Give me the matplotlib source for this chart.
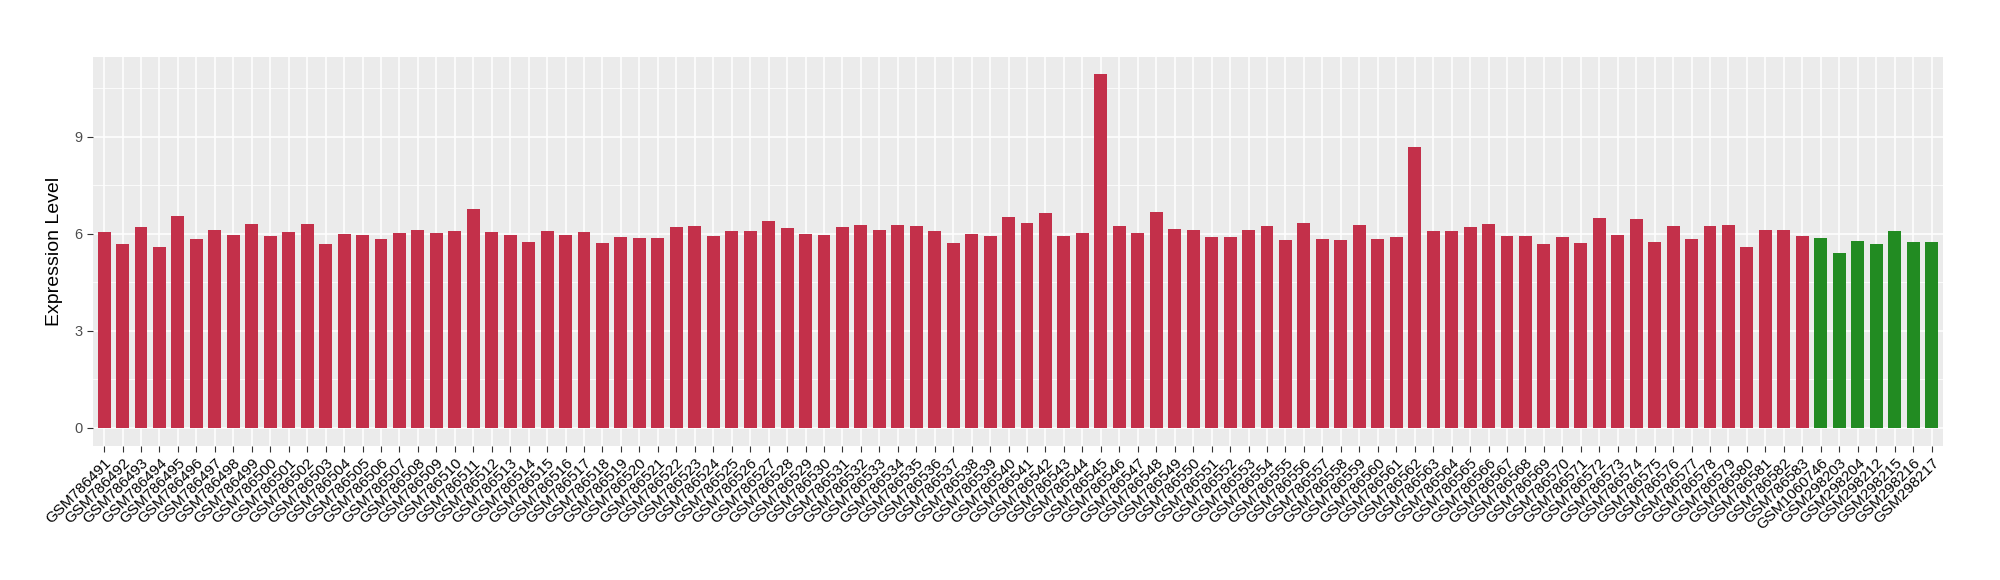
import numpy as np
import matplotlib
matplotlib.use("Agg")
import matplotlib.pyplot as plt
from matplotlib.ticker import MultipleLocator

# образцы и уровни экспрессии
red_samples = ["GSM%d" % n for n in range(786491, 786584)]
green_samples = ["GSM1060746", "GSM298203", "GSM298204", "GSM298212",
                 "GSM298215", "GSM298216", "GSM298217"]

red_values = [
    6.05, 5.68, 6.21, 5.59, 6.54, 5.84, 6.11, 5.96, 6.30, 5.93,
    6.05, 6.30, 5.68, 5.99, 5.96, 5.84, 6.02, 6.11, 6.02, 6.08,
    6.76, 6.05, 5.96, 5.74, 6.08, 5.96, 6.05, 5.71, 5.90, 5.87,
    5.87, 6.21, 6.24, 5.93, 6.08, 6.08, 6.39, 6.17, 5.99, 5.96,
    6.21, 6.27, 6.11, 6.27, 6.24, 6.08, 5.71, 5.99, 5.93, 6.51,
    6.33, 6.64, 5.93, 6.02, 10.92, 6.24, 6.02, 6.67, 6.14, 6.11,
    5.90, 5.90, 6.11, 6.24, 5.80, 6.33, 5.84, 5.80, 6.27, 5.84,
    5.90, 8.67, 6.08, 6.08, 6.21, 6.30, 5.93, 5.93, 5.68, 5.90,
    5.71, 6.48, 5.96, 6.45, 5.74, 6.24, 5.84, 6.24, 6.27, 5.59,
    6.11, 6.11, 5.93,
]
green_values = [5.87, 5.40, 5.77, 5.68, 6.08, 5.74, 5.74]

samples = red_samples + green_samples
values = red_values + green_values
colors = ["#C3304A"] * len(red_samples) + ["#228B22"] * len(green_samples)

fig = plt.figure(figsize=(20, 5.8), dpi=100)
ax = fig.add_axes([0.0465, 0.2316, 0.9248, 0.6706])

x = np.arange(len(samples))
ax.set_facecolor("#EBEBEB")
ax.bar(x, values, width=0.7, color=colors, zorder=3)

# сетка в стиле ggplot
ax.set_ylim(-0.546, 11.466)
ax.set_xlim(-0.6, len(samples) - 0.4)
ax.yaxis.set_major_locator(MultipleLocator(3))
ax.yaxis.set_minor_locator(MultipleLocator(1.5))
ax.grid(which="major", axis="both", color="white", linewidth=1.1, zorder=0)
ax.grid(which="minor", axis="y", color="white", linewidth=0.55, zorder=0)
ax.set_axisbelow(True)

for s in ax.spines.values():
    s.set_visible(False)

ax.set_xticks(x)
ax.set_xticklabels(samples, rotation=45, ha="right", rotation_mode="anchor",
                   fontsize=11, family="Liberation Sans", color="black")
ax.tick_params(axis="both", which="major", length=4, width=0.8, color="#333333")
ax.tick_params(axis="y", which="minor", length=0)
ax.tick_params(axis="y", labelsize=10.5, labelcolor="#4D4D4D")
for lab in ax.get_yticklabels():
    lab.set_family("Liberation Sans")

ax.set_ylabel("Expression Level", fontsize=14, family="Liberation Sans", labelpad=8)

fig.savefig("out.png", dpi=100, facecolor="white")
